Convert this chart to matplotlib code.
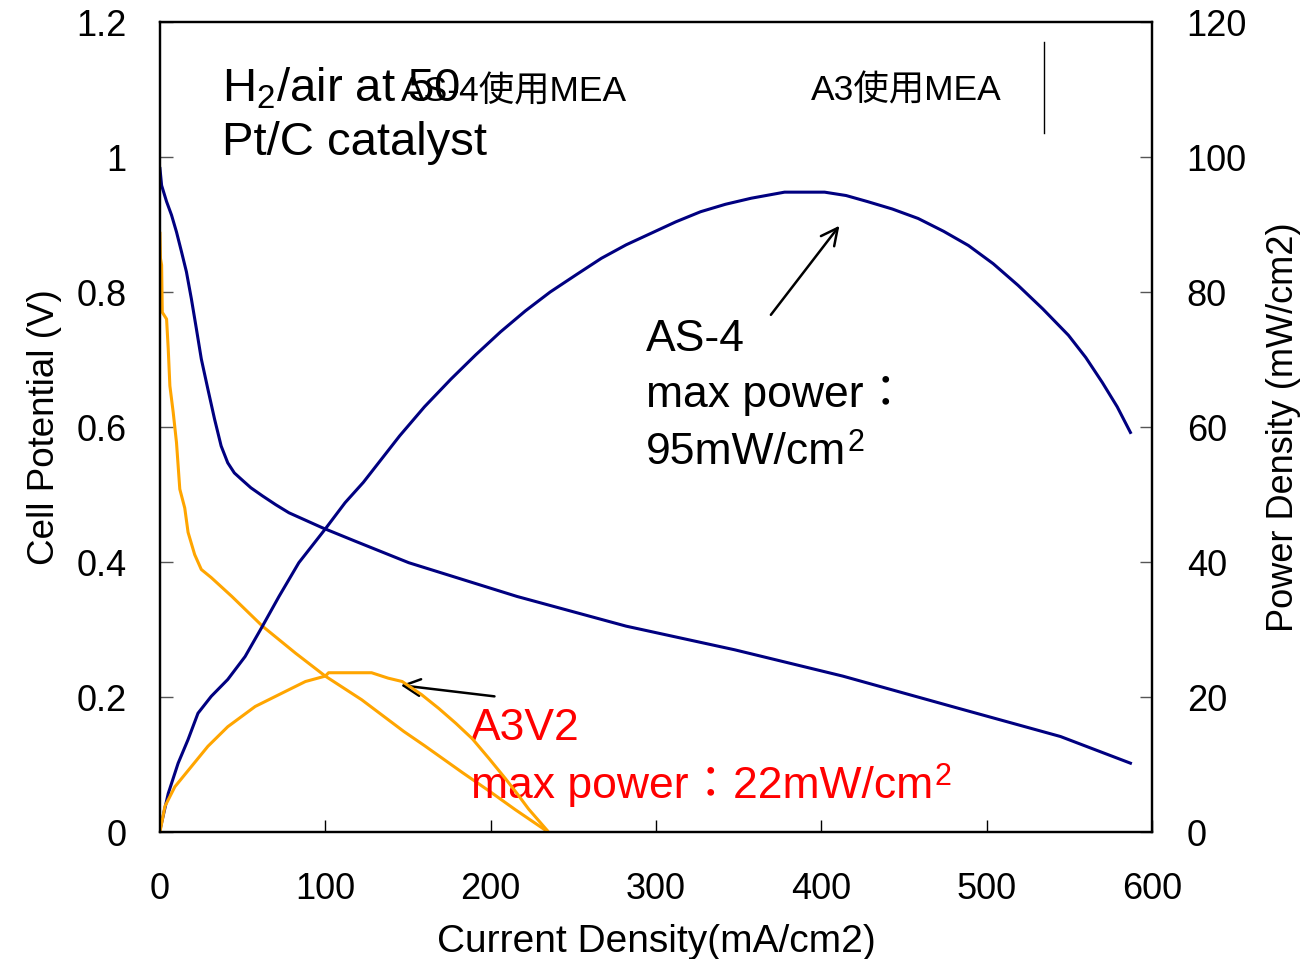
import numpy as np
import matplotlib
matplotlib.use("Agg")
import matplotlib.pyplot as plt

plt.rcParams['font.family'] = ['Liberation Sans', 'Noto Sans CJK JP', 'DejaVu Sans']
plt.rcParams['mathtext.fontset'] = 'custom'
plt.rcParams['mathtext.rm'] = 'Liberation Sans'

# AS-4 MEA : cell potential (V) vs current density (mA/cm2)
as4_i_v = [0, 1, 4, 7, 10, 13, 16, 19, 22, 25, 29, 33, 37, 41, 45, 49.5, 55, 62,
           70, 78, 88, 98, 118, 150.5, 216, 282, 347.6, 413, 479, 544.7, 587]
as4_v = [0.983, 0.958, 0.934, 0.914, 0.889, 0.860, 0.830, 0.790, 0.746, 0.701,
         0.656, 0.612, 0.572, 0.547, 0.532, 0.522, 0.510, 0.498, 0.485, 0.473,
         0.462, 0.451, 0.431, 0.399, 0.349, 0.305, 0.270, 0.231, 0.186, 0.1415,
         0.102]

# AS-4 MEA : power density (mW/cm2)
as4_i_p = [0, 5, 11, 17, 23, 31, 41, 51.5, 62, 72, 84, 100, 112, 123, 145, 160,
           176, 191, 206, 221, 236, 252, 267, 282, 297, 312, 327, 342, 357.6,
           377.8, 402, 415, 428, 443, 458.6, 474, 489, 504, 519, 534, 549.5, 560,
           570, 579, 587]
as4_p = [0.3, 5.7, 10.2, 13.7, 17.6, 20.1, 22.6, 26.0, 30.5, 34.9, 39.9, 44.9,
         48.8, 51.8, 58.7, 63.0, 67.1, 70.7, 74.1, 77.2, 80.0, 82.6, 85.0, 87.0,
         88.7, 90.4, 91.9, 93.0, 93.9, 94.8, 94.8, 94.3, 93.4, 92.3, 90.9, 89.0,
         86.9, 84.2, 81.0, 77.5, 73.6, 70.3, 66.6, 63.0, 59.2]

# A3V2 MEA : cell potential
a3_i_v = [0, 0.3, 1, 1.4, 4, 5, 6, 8, 10, 12, 15, 17, 21, 25, 31, 43.5, 62, 82,
          100, 122, 147.5, 160, 183, 199, 215, 233, 235]
a3_v = [0.887, 0.85, 0.84, 0.77, 0.76, 0.716, 0.661, 0.622, 0.577, 0.508, 0.480,
        0.444, 0.411, 0.389, 0.377, 0.349, 0.305, 0.265, 0.231, 0.196, 0.149,
        0.128, 0.088, 0.061, 0.033, 0.003, 0.0]

# A3V2 MEA : power density
a3_i_p = [0, 3, 9, 19, 29, 41, 57.6, 74, 88, 100, 102, 128, 138, 146.5, 158,
          168.7, 179, 189, 199, 209, 216, 223, 234]
a3_p = [0, 3.8, 6.7, 9.7, 12.7, 15.6, 18.6, 20.6, 22.3, 23.1, 23.6, 23.6, 22.8,
        22.3, 20.4, 18.3, 16.1, 13.8, 10.9, 7.9, 5.7, 3.4, 0.3]

x_ticks = [0, 100, 200, 300, 400, 500, 600]
v_ticks = [0, 0.2, 0.4, 0.6, 0.8, 1.0, 1.2]
v_labels = ['0', '0.2', '0.4', '0.6', '0.8', '1', '1.2']
p_ticks = [0, 20, 40, 60, 80, 100, 120]

navy = '#000080'
orange = '#FFA500'

fig = plt.figure(figsize=(13.09, 9.59), dpi=100)
ax = fig.add_axes([0.1222, 0.1324, 0.7578, 0.8446])
ax2 = ax.twinx()

ax.plot(as4_i_v, as4_v, color=navy, lw=2.2)
ax.plot(a3_i_v, a3_v, color=orange, lw=2.2)
ax2.plot(as4_i_p, as4_p, color=navy, lw=2.2)
ax2.plot(a3_i_p, a3_p, color=orange, lw=2.2)

ax.set_xlim(0, 600)
ax.set_ylim(0, 1.2)
ax2.set_ylim(0, 120)
ax.set_xticks(x_ticks)
ax.set_xticklabels([str(t) for t in x_ticks])
ax.set_yticks(v_ticks)
ax.set_yticklabels(v_labels)
ax2.set_yticks(p_ticks)
ax2.set_yticklabels([str(t) for t in p_ticks])

ax.tick_params(axis='x', direction='in', length=9, width=1, labelsize=26, pad=29)
ax.tick_params(axis='y', direction='in', length=9, width=1, labelsize=26, pad=24, color='#555555')
ax2.tick_params(axis='y', direction='in', length=9, width=1, labelsize=26, pad=25, color='#555555')
for a in (ax, ax2):
    for s in a.spines.values():
        s.set_linewidth(1.6)

ax.set_xlabel('Current Density(mA/cm2)', fontsize=28, labelpad=12)
ax.set_ylabel('Cell Potential (V)', fontsize=26.5, labelpad=10)
ax2.set_ylabel('Power Density (mW/cm2)', fontsize=26, labelpad=14)

# condition text and leftover legend labels
ax.text(37.6, 1.083, 'H$_\\mathrm{2}$/air at 50', fontsize=34, ha='left', va='baseline')
ax.text(37.6, 1.0025, 'Pt/C catalyst', fontsize=34, ha='left', va='baseline')
ax.text(145.5, 1.083, 'AS-4使用MEA', fontsize=25.5, ha='left', va='baseline')
ax.text(394, 1.084, 'A3使用MEA', fontsize=25.5, ha='left', va='baseline')
ax.axvline(535, 0.863, 0.975, color='black', lw=1)


def sup_two(base, color):
    # superscript "2" placed right after a text
    ax.annotate('2', xy=(1.0, 0.55), xycoords=base, xytext=(1, 0),
                textcoords='offset points', fontsize=22, ha='left',
                va='baseline', color=color)


# annotations
ax.text(294, 0.713, 'AS-4', fontsize=32, ha='left', va='baseline')
ax.text(294, 0.630, 'max power：', fontsize=32, ha='left', va='baseline')
t = ax.text(294, 0.545, '95mW/cm', fontsize=32, ha='left', va='baseline')
sup_two(t, 'black')
ax.annotate('', xy=(412, 0.9015), xytext=(368.5, 0.763),
            arrowprops=dict(arrowstyle='->', color='black', lw=1.8, mutation_scale=30))

ax.text(188, 0.137, 'A3V2', fontsize=32, ha='left', va='baseline', color='red')
t = ax.text(188, 0.05, 'max power：22mW/cm', fontsize=32, ha='left',
            va='baseline', color='red')
sup_two(t, 'red')
ax.annotate('', xy=(144, 0.218), xytext=(204, 0.2005),
            arrowprops=dict(arrowstyle='->', color='black', lw=1.8, mutation_scale=30))

fig.savefig('out.png', dpi=100)
